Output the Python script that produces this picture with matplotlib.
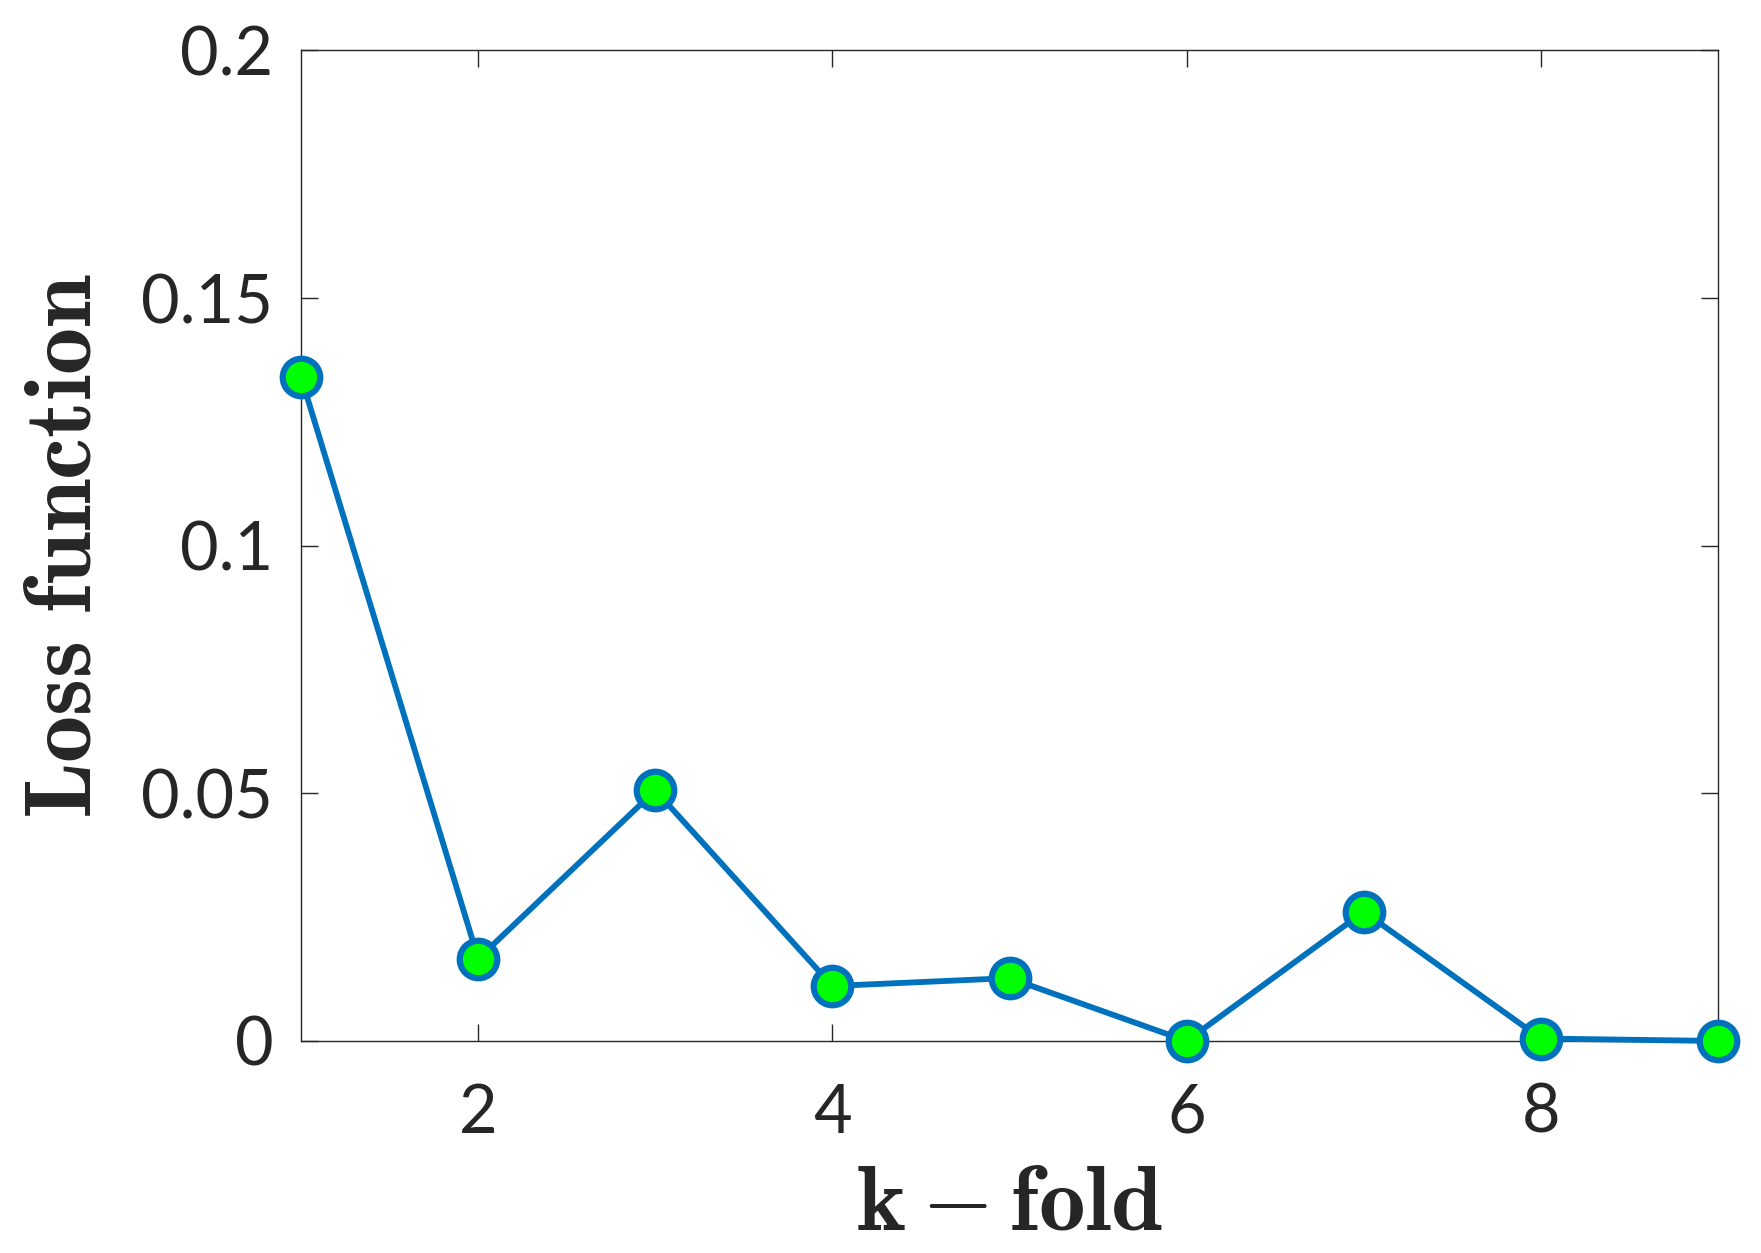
import numpy as np
import matplotlib
matplotlib.use("Agg")
import matplotlib.pyplot as plt

# data
k_fold = [1, 2, 3, 4, 5, 6, 7, 8, 9]
loss = [0.134, 0.0166, 0.0506, 0.0111, 0.0127, 0.0, 0.0261, 0.0005, 0.0]
xticks = [2, 4, 6, 8]
yticks = [0, 0.05, 0.1, 0.15, 0.2]
yticklabels = ["0", "0.05", "0.1", "0.15", "0.2"]

plt.rcParams['mathtext.fontset'] = 'cm'

fig = plt.figure(figsize=(17.61, 12.53), dpi=100)
ax = fig.add_axes([0.171, 0.1692, 0.8046, 0.7905])

ax.plot(k_fold, loss, '-o', color='#0072BD', linewidth=4.2,
        markersize=27, markerfacecolor='#00FF00', markeredgecolor='#0072BD',
        markeredgewidth=4.5, clip_on=False, zorder=5)

ax.set_xlim(1, 9)
ax.set_ylim(0, 0.2)
ax.set_xticks(xticks)
ax.set_yticks(yticks)
ax.set_yticklabels(yticklabels)

ax.tick_params(direction='in', length=12, width=1, top=True, right=True,
               labelsize=48, colors='#262626')
ax.tick_params(axis='x', pad=30)
ax.tick_params(axis='y', pad=20)
for lab in ax.get_xticklabels() + ax.get_yticklabels():
    lab.set_family('Lato')
for s in ax.spines.values():
    s.set_linewidth(1.0)
    s.set_color('#262626')

ax.set_xlabel(r'$\mathbf{k-fold}$', fontsize=67, color='#262626', labelpad=10)
ax.set_ylabel(r'$\mathbf{Loss\ function}$', fontsize=68, color='#262626', labelpad=22)

fig.savefig('out.png', dpi=100)
